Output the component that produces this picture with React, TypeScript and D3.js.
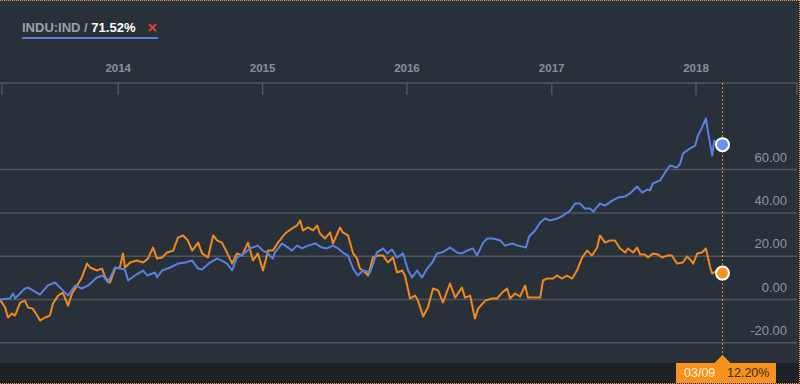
import React from 'react';
import * as d3 from 'd3';

type Pt = [string, number];

// INDU:IND, % change since start
const induSeries: Pt[] = [
  ['2013-03-08', 0], ['2013-04-02', 0.5], ['2013-04-10', 2.8], ['2013-04-15', 0.5],
  ['2013-05-10', 5.1], ['2013-05-18', 5.5], ['2013-05-30', 4.2], ['2013-06-17', 2.3],
  ['2013-07-07', 6.5], ['2013-07-25', 7.9], ['2013-08-07', 5.5], ['2013-08-27', 1.8],
  ['2013-09-14', 6.5], ['2013-10-01', 5.1], ['2013-10-17', 6.5], ['2013-11-08', 10.2],
  ['2013-11-23', 11.1], ['2013-12-06', 7.9], ['2013-12-24', 14.8], ['2014-01-18', 13.9],
  ['2014-01-26', 8.8], ['2014-02-12', 11.1], ['2014-03-05', 13.4], ['2014-03-15', 11.1],
  ['2014-04-04', 12.5], ['2014-04-09', 10.2], ['2014-04-22', 13.4], ['2014-05-12', 14.8],
  ['2014-06-01', 16.6], ['2014-06-19', 17.1], ['2014-07-07', 18.0], ['2014-07-22', 14.3],
  ['2014-08-01', 13.9], ['2014-08-21', 17.1], ['2014-09-08', 18.9], ['2014-09-20', 18.0],
  ['2014-10-03', 16.6], ['2014-10-16', 13.4], ['2014-10-28', 19.4], ['2014-11-18', 21.7],
  ['2014-11-30', 23.6], ['2014-12-20', 24.9], ['2015-01-02', 22.6], ['2015-01-12', 21.7],
  ['2015-01-27', 18.9], ['2015-02-01', 21.7], ['2015-02-19', 25.9], ['2015-03-06', 24.0],
  ['2015-03-16', 22.6], ['2015-03-29', 24.9], ['2015-04-11', 23.6], ['2015-04-26', 24.9],
  ['2015-05-14', 25.9], ['2015-05-31', 24.0], ['2015-06-13', 23.6], ['2015-06-28', 24.9],
  ['2015-07-11', 23.6], ['2015-07-23', 21.7], ['2015-08-05', 20.3], ['2015-08-18', 14.3],
  ['2015-08-30', 11.1], ['2015-09-12', 13.4], ['2015-09-30', 12.5], ['2015-10-17', 21.7],
  ['2015-11-02', 23.6], ['2015-11-12', 21.3], ['2015-11-24', 23.1], ['2015-12-07', 19.4],
  ['2015-12-22', 21.3], ['2016-01-04', 13.4], ['2016-01-14', 10.2], ['2016-01-27', 13.4],
  ['2016-02-08', 10.2], ['2016-02-21', 14.3], ['2016-03-05', 17.1], ['2016-03-17', 21.3],
  ['2016-03-30', 21.7], ['2016-04-19', 24.0], ['2016-05-07', 21.7], ['2016-05-19', 21.3],
  ['2016-06-01', 22.6], ['2016-06-16', 23.6], ['2016-06-26', 20.3], ['2016-07-12', 26.3],
  ['2016-07-22', 28.2], ['2016-08-06', 28.2], ['2016-08-24', 27.3], ['2016-09-05', 24.9],
  ['2016-09-23', 25.9], ['2016-10-08', 24.9], ['2016-10-28', 24.0], ['2016-11-05', 29.1],
  ['2016-11-20', 31.9], ['2016-12-03', 35.6], ['2016-12-15', 37.4], ['2016-12-28', 36.5],
  ['2017-01-15', 37.4], ['2017-01-30', 38.8], ['2017-02-17', 41.1], ['2017-03-01', 44.3],
  ['2017-03-14', 44.3], ['2017-03-26', 42.0], ['2017-04-08', 42.0], ['2017-04-16', 40.6],
  ['2017-05-03', 44.3], ['2017-05-16', 43.4], ['2017-06-03', 45.7], ['2017-06-18', 47.1],
  ['2017-07-06', 47.6], ['2017-07-18', 49.0], ['2017-08-05', 52.2], ['2017-08-18', 49.4],
  ['2017-08-30', 50.8], ['2017-09-07', 50.4], ['2017-09-14', 53.6], ['2017-10-02', 55.0],
  ['2017-10-15', 58.7], ['2017-10-27', 61.9], ['2017-11-14', 61.0], ['2017-11-22', 62.8],
  ['2017-11-29', 67.4], ['2017-12-17', 69.8], ['2017-12-30', 71.1], ['2018-01-06', 75.8],
  ['2018-01-16', 79.4], ['2018-01-26', 83.6], ['2018-02-01', 76.7], ['2018-02-11', 66.5],
  ['2018-02-16', 73.4], ['2018-02-26', 72.1], ['2018-03-09', 71.52],
];

// compared security, % change since start
const compareSeries: Pt[] = [
  ['2013-03-08', 0], ['2013-03-21', -3.7], ['2013-03-28', -8.3], ['2013-04-07', -6.5],
  ['2013-04-15', -7.4], ['2013-04-28', -1.4], ['2013-05-10', -0.5], ['2013-05-18', -3.7],
  ['2013-05-30', -4.2], ['2013-06-10', -7.4], ['2013-06-17', -9.7], ['2013-06-30', -8.3],
  ['2013-07-12', -7.4], ['2013-07-20', -1.8], ['2013-08-02', 1.8], ['2013-08-14', 3.2],
  ['2013-08-27', -2.8], ['2013-09-06', 2.8], ['2013-09-19', 6.5], ['2013-10-01', 10.2],
  ['2013-10-14', 16.6], ['2013-10-22', 14.8], ['2013-11-08', 13.4], ['2013-11-21', 14.3],
  ['2013-11-29', 10.2], ['2013-12-11', 7.8], ['2013-12-24', 14.3], ['2014-01-05', 14.8],
  ['2014-01-13', 21.3], ['2014-01-18', 14.8], ['2014-01-31', 17.1], ['2014-02-17', 18.0],
  ['2014-03-05', 17.1], ['2014-03-17', 18.9], ['2014-03-30', 24.0], ['2014-04-09', 18.9],
  ['2014-04-22', 19.4], ['2014-05-04', 21.7], ['2014-05-20', 22.6], ['2014-06-01', 28.6],
  ['2014-06-14', 29.6], ['2014-06-26', 27.3], ['2014-07-07', 22.6], ['2014-07-22', 26.3],
  ['2014-08-01', 21.3], ['2014-08-16', 19.4], ['2014-08-29', 29.6], ['2014-09-08', 27.3],
  ['2014-09-20', 26.3], ['2014-10-03', 21.7], ['2014-10-16', 16.6], ['2014-10-28', 21.3],
  ['2014-11-10', 20.3], ['2014-11-25', 26.3], ['2014-12-08', 18.0], ['2014-12-20', 21.3],
  ['2015-01-02', 13.4], ['2015-01-15', 22.6], ['2015-01-27', 22.6], ['2015-02-09', 26.3],
  ['2015-02-27', 30.5], ['2015-03-16', 32.8], ['2015-03-29', 34.2], ['2015-04-06', 36.5],
  ['2015-04-13', 31.9], ['2015-04-26', 33.3], ['2015-05-09', 31.9], ['2015-05-19', 34.2],
  ['2015-05-26', 30.5], ['2015-06-08', 28.2], ['2015-06-21', 31.0], ['2015-06-28', 25.9],
  ['2015-07-16', 33.3], ['2015-07-23', 31.0], ['2015-08-05', 29.6], ['2015-08-18', 21.3],
  ['2015-08-28', 18.9], ['2015-09-04', 14.3], ['2015-09-12', 13.4], ['2015-09-25', 11.1],
  ['2015-10-07', 19.4], ['2015-10-20', 20.3], ['2015-11-02', 20.3], ['2015-11-14', 17.1],
  ['2015-11-27', 19.4], ['2015-12-07', 12.5], ['2015-12-20', 13.4], ['2015-12-27', 11.1],
  ['2016-01-09', 0.5], ['2016-01-22', 1.8], ['2016-01-29', -0.5], ['2016-02-11', -7.8],
  ['2016-02-23', -3.7], ['2016-03-07', 5.1], ['2016-03-20', 4.2], ['2016-04-01', -1.4],
  ['2016-04-19', 7.4], ['2016-05-02', 0.9], ['2016-05-19', 5.5], ['2016-05-27', 0.9],
  ['2016-06-09', 1.8], ['2016-06-21', -8.8], ['2016-06-29', -4.2], ['2016-07-17', -0.5],
  ['2016-08-03', 0.5], ['2016-08-16', 0.5], ['2016-08-29', 3.2], ['2016-09-10', 5.1],
  ['2016-09-18', 0.5], ['2016-09-30', 2.8], ['2016-10-13', 1.4], ['2016-10-26', 6.5],
  ['2016-11-02', 0.9], ['2016-11-15', 0.9], ['2016-12-03', 0.9], ['2016-12-10', 8.8],
  ['2016-12-20', 9.7], ['2017-01-05', 9.7], ['2017-01-15', 11.1], ['2017-01-27', 9.7],
  ['2017-02-09', 11.1], ['2017-02-22', 9.7], ['2017-03-06', 13.4], ['2017-03-19', 19.4],
  ['2017-04-01', 22.6], ['2017-04-13', 20.3], ['2017-04-26', 24.0], ['2017-05-03', 29.6],
  ['2017-05-16', 26.3], ['2017-05-29', 27.3], ['2017-06-10', 27.3], ['2017-06-23', 23.6],
  ['2017-07-06', 21.7], ['2017-07-13', 23.6], ['2017-07-26', 21.7], ['2017-08-05', 24.0],
  ['2017-08-13', 20.8], ['2017-08-25', 20.8], ['2017-09-02', 19.4], ['2017-09-14', 21.3],
  ['2017-09-27', 20.8], ['2017-10-07', 19.4], ['2017-10-20', 20.3], ['2017-11-01', 20.3],
  ['2017-11-14', 16.6], ['2017-11-29', 17.1], ['2017-12-09', 19.9], ['2017-12-17', 18.5],
  ['2017-12-25', 16.6], ['2018-01-04', 21.3], ['2018-01-16', 21.7], ['2018-01-26', 23.6],
  ['2018-02-06', 14.8], ['2018-02-11', 12.0], ['2018-02-23', 13.4], ['2018-03-09', 12.2],
];

const yearTicks = [2014, 2015, 2016, 2017, 2018];
const valueTicks = [-20, 0, 20, 40, 60];
const legendName = 'INDU:IND';
const cursorDate = '2018-03-09';

const W = 800;
const H = 384;
const BG = '#28303a';
const GRID = '#4f565e';
const BLUE = '#5b80e2';
const ORANGE = '#f08a1c';
const FONT = '"Liberation Sans", Arial, sans-serif';

export default function App() {
  const parse = d3.timeParse('%Y-%m-%d');
  const axisY = 83;
  const plotBottom = 363;

  const x = d3.scaleTime()
    .domain([parse('2013-03-08')!, parse(cursorDate)!])
    .range([0, 722.5]);
  const y = d3.scaleLinear().domain([-30, 100]).range([364.5, 83]);

  const line = d3.line<Pt>()
    .x(d => x(parse(d[0])!))
    .y(d => y(d[1]));

  const induLast = induSeries[induSeries.length - 1];
  const compLast = compareSeries[compareSeries.length - 1];
  const cx = x(parse(cursorDate)!);

  return (
    <>
      <style>{'body{margin:0;background:' + BG + '}'}</style>
      <svg width={W} height={H} style={{ display: 'block', fontFamily: FONT }}>
        <rect x={0} y={0} width={W} height={H} fill={BG} />
        <rect x={0} y={plotBottom} width={W} height={H - plotBottom} fill="#1e2226" />

        {/* legend */}
        <text x={22} y={32} fontSize={13} fontWeight="bold">
          <tspan fill="#9aa0a7">{legendName} / </tspan>
          <tspan fill="#ffffff">{induLast[1].toFixed(2)}%</tspan>
        </text>
        <path d="M149,24 L156,31 M156,24 L149,31" stroke="#e8413b" strokeWidth={1.8} />
        <rect x={22} y={37} width={136} height={2} fill={BLUE} />

        {/* top time axis */}
        {yearTicks.map(yr => {
          const tx = x(new Date(yr, 0, 1));
          return (
            <g key={yr}>
              <text x={tx} y={72} textAnchor="middle" fontSize={11.5} fontWeight="bold" fill="#8a9097">
                {yr}
              </text>
              <line x1={tx} x2={tx} y1={axisY} y2={95} stroke={GRID} strokeWidth={1.5} />
            </g>
          );
        })}
        <line x1={0} x2={798} y1={axisY} y2={axisY} stroke={GRID} strokeWidth={1.5} />
        <line x1={2} x2={2} y1={axisY} y2={95} stroke={GRID} strokeWidth={1.5} />
        <line x1={797} x2={797} y1={axisY} y2={95} stroke={GRID} strokeWidth={1.5} />

        {/* value grid */}
        {valueTicks.map(v => (
          <g key={v}>
            <line x1={0} x2={797} y1={y(v)} y2={y(v)} stroke={GRID} strokeWidth={1.5} />
            <text x={787} y={y(v) - 8} textAnchor="end" fontSize={13} fill="#8e959d">
              {v.toFixed(2)}
            </text>
          </g>
        ))}

        {/* cursor */}
        <line x1={cx} x2={cx} y1={axisY} y2={357} stroke="#d8961c" strokeWidth={1} strokeDasharray="2,2" />

        <path d={line(compareSeries) || ''} fill="none" stroke={ORANGE} strokeWidth={2} strokeLinejoin="round" />
        <path d={line(induSeries) || ''} fill="none" stroke={BLUE} strokeWidth={2} strokeLinejoin="round" />

        <circle cx={cx} cy={y(induLast[1])} r={6.5} fill="#6a92f2" stroke="#ffffff" strokeWidth={2} />
        <circle cx={cx} cy={y(compLast[1])} r={6.5} fill="#f7921e" stroke="#ffffff" strokeWidth={2} />

        {/* cursor tooltip */}
        <path d={`M${cx - 8},${plotBottom} L${cx},${plotBottom - 8} L${cx + 8},${plotBottom} Z`} fill="#f7921e" />
        <rect x={676} y={plotBottom} width={100} height={20} fill="#f7921e" />
        <text x={684} y={377} fontSize={12.5} fill="#fff1dd">
          {d3.timeFormat('%m/%d')(parse(cursorDate)!)}
        </text>
        <text x={727} y={377} fontSize={12.5} fill="#3a2a18">
          {compLast[1].toFixed(2)}%
        </text>

        {/* outer dotted frame */}
        <line x1={0} x2={W} y1={0.5} y2={0.5} stroke="#f0a040" strokeDasharray="1,1" />
        <line x1={799.5} x2={799.5} y1={0} y2={H} stroke="#f0a040" strokeDasharray="1,1" />
        <line x1={0} x2={W} y1={383.5} y2={383.5} stroke="#f0a040" strokeDasharray="1,1" />
      </svg>
    </>
  );
}
